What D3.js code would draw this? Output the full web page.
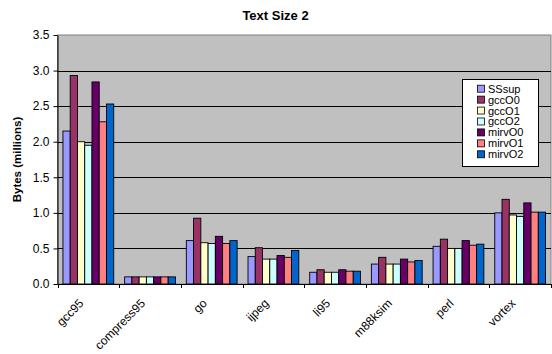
<!DOCTYPE html>
<html>
<head>
<meta charset="utf-8">
<script src="https://cdn.jsdelivr.net/npm/d3@7/dist/d3.min.js"></script>
<style>
  html, body { margin: 0; padding: 0; background: #fff; }
  svg { display: block; font-family: "Liberation Sans", Arial, sans-serif; }
</style>
</head>
<body>
<svg id="chart" width="552" height="354"></svg>
<script>
// Benchmarks on the x axis
const categories = ["gcc95", "compress95", "go", "ijpeg", "li95", "m88ksim", "perl", "vortex"];
// Compiler configurations (one bar per benchmark each)
const seriesNames = ["SSsup", "gccO0", "gccO1", "gccO2", "mirvO0", "mirvO1", "mirvO2"];
const seriesColors = ["#9999FF", "#993366", "#FFFFCC", "#CCFFFF", "#660066", "#FF8080", "#0066CC"];

// Text size in millions of bytes, per configuration, in benchmark order
const SSsup  = [2.15, 0.10, 0.61, 0.385, 0.165, 0.28, 0.53, 1.00];
const gccO0  = [2.93, 0.10, 0.925, 0.51, 0.20, 0.375, 0.63, 1.19];
const gccO1  = [2.00, 0.10, 0.58, 0.35, 0.165, 0.28, 0.50, 0.97];
const gccO2  = [1.95, 0.10, 0.57, 0.35, 0.165, 0.28, 0.50, 0.95];
const mirvO0 = [2.84, 0.10, 0.67, 0.40, 0.20, 0.35, 0.61, 1.14];
const mirvO1 = [2.28, 0.10, 0.57, 0.375, 0.18, 0.31, 0.545, 1.01];
const mirvO2 = [2.53, 0.10, 0.61, 0.47, 0.18, 0.33, 0.56, 1.01];
const seriesValues = [SSsup, gccO0, gccO1, gccO2, mirvO0, mirvO1, mirvO2];

const yTicks = [0, 0.5, 1.0, 1.5, 2.0, 2.5, 3.0, 3.5];

const svg = d3.select("#chart");
const plot = { left: 57.5, right: 551, top: 35, bottom: 284 };

const x0 = d3.scaleBand().domain(categories).range([plot.left, plot.right]).padding(0);
const y = d3.scaleLinear().domain([0, 3.5]).range([plot.bottom, plot.top]);

// Excel-style gap: total gap of 1.5 bar widths split evenly around the group
const barW = x0.bandwidth() / (seriesNames.length + 1.5);
const groupOffset = barW * 0.75;

// Plot area background
svg.append("rect")
  .attr("x", plot.left).attr("y", plot.top)
  .attr("width", plot.right - plot.left).attr("height", plot.bottom - plot.top)
  .attr("fill", "#C0C0C0").attr("stroke", "#808080").attr("stroke-width", 1);

// Horizontal gridlines
svg.append("g").selectAll("line").data(yTicks.filter(d => d > 0 && d < 3.5)).join("line")
  .attr("x1", plot.left).attr("x2", plot.right)
  .attr("y1", d => Math.round(y(d)) + 0.5).attr("y2", d => Math.round(y(d)) + 0.5)
  .attr("stroke", "#000").attr("stroke-width", 1);

// Bars
const groups = svg.append("g").selectAll("g").data(categories).join("g")
  .attr("transform", c => `translate(${x0(c) + groupOffset},0)`);
groups.selectAll("rect")
  .data((c, ci) => seriesNames.map((s, si) => ({ s, si, v: seriesValues[si][ci] })))
  .join("rect")
  .attr("x", d => d.si * barW)
  .attr("y", d => y(d.v))
  .attr("width", barW)
  .attr("height", d => y(0) - y(d.v))
  .attr("fill", d => seriesColors[d.si])
  .attr("stroke", "#000").attr("stroke-width", 0.9);

// Y axis
const yAxis = d3.axisLeft(y).tickValues(yTicks).tickFormat(d3.format(".1f")).tickSizeInner(4).tickSizeOuter(0).tickPadding(4);
const yg = svg.append("g").attr("transform", `translate(${plot.left},0)`).call(yAxis);
yg.select(".domain").attr("stroke", "#000");
yg.selectAll("text").attr("font-size", 12).attr("fill", "#000").attr("font-family", "Liberation Sans, Arial, sans-serif");

// X axis: ticks at category boundaries
const xg = svg.append("g").attr("transform", `translate(0,${plot.bottom})`);
xg.append("line").attr("x1", plot.left).attr("x2", plot.right).attr("y1", 0.5).attr("y2", 0.5).attr("stroke", "#000");
const bounds = categories.map(c => x0(c)).concat([plot.right]);
xg.selectAll("line.tick").data(bounds).join("line").attr("class", "tick")
  .attr("x1", d => Math.round(d) + 0.5).attr("x2", d => Math.round(d) + 0.5)
  .attr("y1", 0).attr("y2", 4).attr("stroke", "#000");
xg.selectAll("text").data(categories).join("text")
  .attr("transform", c => `translate(${x0(c) + x0.bandwidth() / 2 - 4},20) rotate(-45)`)
  .attr("text-anchor", "end")
  .attr("font-size", 12)
  .text(c => c);

// Title
svg.append("text").attr("x", 275.5).attr("y", 20).attr("text-anchor", "middle")
  .attr("font-size", 13).attr("font-weight", "bold").text("Text Size 2");

// Y axis title
svg.append("text").attr("transform", `translate(21,${(plot.top + plot.bottom) / 2}) rotate(-90)`)
  .attr("text-anchor", "middle").attr("font-size", 11.5).attr("font-weight", "bold")
  .text("Bytes (millions)");

// Legend
const legend = svg.append("g").attr("transform", "translate(462.5,79.5)");
legend.append("rect").attr("width", 76).attr("height", 87).attr("fill", "#fff").attr("stroke", "#000");
const rows = legend.selectAll("g").data(seriesNames).join("g")
  .attr("transform", (d, i) => `translate(0,${9.2 + i * 10.93})`);
rows.append("rect").attr("x", 15).attr("y", -3.5).attr("width", 7).attr("height", 7)
  .attr("fill", (d, i) => seriesColors[i]).attr("stroke", "#000").attr("stroke-width", 0.8);
rows.append("text").attr("x", 25.5).attr("y", 4).attr("font-size", 11).text(d => d);
</script>
</body>
</html>
